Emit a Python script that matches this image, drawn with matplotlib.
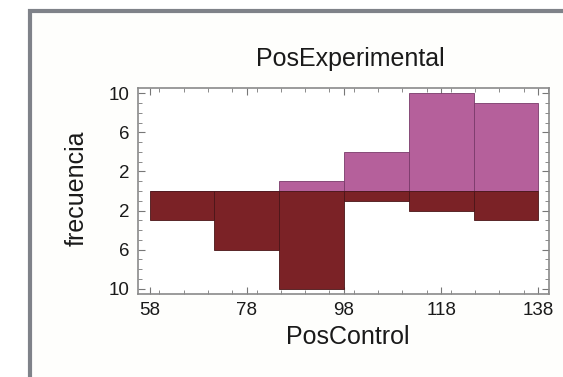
import matplotlib
matplotlib.use("Agg")
import matplotlib.pyplot as plt
from matplotlib.patches import Rectangle
from matplotlib.ticker import MultipleLocator, FixedLocator
import numpy as np

# Data
bin_edges = [58, 71.333, 84.667, 98, 111.333, 124.667, 138]
experimental = [0, 0, 1, 4, 10, 9]      # upper histogram (PosExperimental)
control = [3, 6, 10, 1, 2, 3]            # lower histogram (PosControl)
xticks = [58, 78, 98, 118, 138]
yticks = [-10, -6, -2, 2, 6, 10]
ytick_labels = ["10", "6", "2", "2", "6", "10"]

plt.rcParams['font.family'] = ['Liberation Sans', 'DejaVu Sans']

W, H = 563, 377
fig = plt.figure(figsize=(W / 100, H / 100), dpi=100)
fig.patch.set_facecolor("white")

# outer gray frame
frame = Rectangle((30 / W, -0.1), 1.2, 1 - 11 / H + 0.1, transform=fig.transFigure,
                  facecolor="#FEFEFC", edgecolor="#7F8289", linewidth=3.0, zorder=-5)
fig.patches.append(frame)

ax = fig.add_axes([138 / W, 1 - 294 / H, (549 - 138) / W, (294 - 88) / H])
ax.set_zorder(2)
ax.set_facecolor("white")

lefts = np.array(bin_edges[:-1])
widths = np.diff(bin_edges)
ax.bar(lefts, experimental, width=widths, align="edge", color="#B5609B",
       edgecolor="#7A3A6A", linewidth=0.6, zorder=2)
ax.bar(lefts, -np.array(control), width=widths, align="edge", color="#7B2226",
       edgecolor="#4A1518", linewidth=0.6, zorder=3)

ax.set_xlim(55.6, 140.2)
ax.set_ylim(-10.55, 10.55)
ax.xaxis.set_major_locator(FixedLocator(xticks))
ax.xaxis.set_minor_locator(MultipleLocator(5))
ax.yaxis.set_major_locator(FixedLocator(yticks))
ax.yaxis.set_minor_locator(MultipleLocator(1))
ax.set_yticklabels(ytick_labels)

for s in ax.spines.values():
    s.set_color("#8A8A8A")
    s.set_linewidth(1.2)

ax.tick_params(which="both", direction="in", top=True, right=True, colors="#777777",
               labelcolor="#1A1A1A")
ax.tick_params(which="major", length=5, width=0.8, labelsize=13.5)
ax.tick_params(which="minor", length=3, width=0.6)
ax.tick_params(axis="x", which="major", pad=6)
ax.tick_params(axis="y", which="major", pad=6)

fig.text(350 / W, 1 - 59 / H, "PosExperimental", ha="center", va="center",
         fontsize=18, color="#1A1A1A")
fig.text(348 / W, 1 - 337 / H, "PosControl", ha="center", va="center",
         fontsize=18, color="#1A1A1A")
fig.text(77 / W, 1 - 188 / H, "frecuencia", ha="center", va="center",
         rotation=90, fontsize=18, color="#1A1A1A")

fig.savefig("out.png", dpi=100)
